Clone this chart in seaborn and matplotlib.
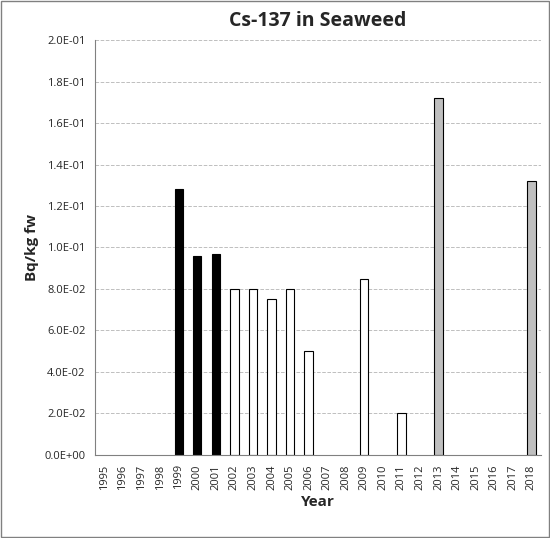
import pandas as pd
import numpy as np
import matplotlib.pyplot as plt
import seaborn as sns

years = [str(y) for y in range(1995, 2019)]
values = [np.nan, np.nan, np.nan, np.nan, 0.128, 0.096, 0.097, 0.080, 0.080, 0.075,
          0.080, 0.050, np.nan, np.nan, 0.085, np.nan, 0.020, np.nan, 0.172,
          np.nan, np.nan, np.nan, np.nan, 0.132]
groups = ["a"] * 7 + ["b"] * 11 + ["c"] * 6
group_colors = {"a": "black", "b": "white", "c": "#bfbfbf"}

df = pd.DataFrame({"Year": years, "Value": values, "Group": groups})

sns.set_style("white")
plt.rcParams['font.family'] = ['Open Sans', 'DejaVu Sans']

fig = plt.figure(figsize=(5.5, 5.38), dpi=100)
ax = fig.add_axes([0.173, 0.155, 0.81, 0.77])
sns.barplot(data=df, x="Year", y="Value", hue="Group", palette=group_colors,
            dodge=False, width=0.45, edgecolor="black", linewidth=0.8,
            legend=False, ax=ax)

ax.set_ylim(0, 0.2)
ax.set_yticks(np.arange(0, 0.2001, 0.02))
ax.set_yticklabels([f"{v:.1E}".replace("E-0", "E-").replace("E+0", "E+").replace("E-", "E-0").replace("E+", "E+0") for v in np.arange(0, 0.2001, 0.02)], fontsize=8)
ax.yaxis.grid(True, linestyle="--", color="#bfbfbf", linewidth=0.7)
ax.set_axisbelow(True)
ax.tick_params(axis="x", labelrotation=90, labelsize=8)
ax.set_xlim(-0.5, len(years) - 0.5)
for s in ["top", "right"]:
    ax.spines[s].set_visible(False)
for s in ["left", "bottom"]:
    ax.spines[s].set_color("#808080")
ax.set_xlabel("Year", fontsize=11, fontweight="bold")
ax.set_ylabel("Bq/kg fw", fontsize=11, fontweight="bold")
ax.set_title("Cs-137 in Seaweed", fontsize=14, fontweight="bold", pad=10)

fig.patches.append(plt.Rectangle((0.002, 0.002), 0.996, 0.996, transform=fig.transFigure,
                                 fill=False, edgecolor="#808080", linewidth=1))
fig.savefig("out.png", dpi=100)
